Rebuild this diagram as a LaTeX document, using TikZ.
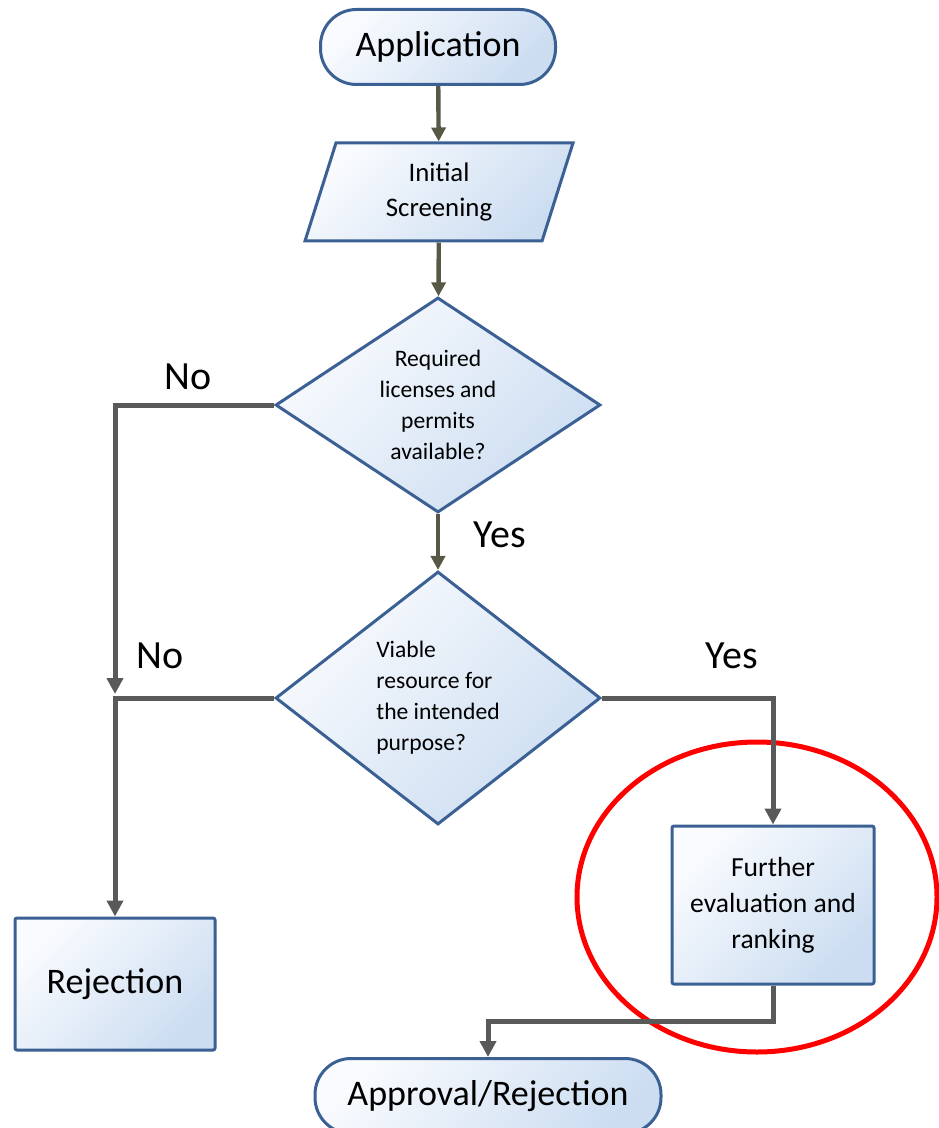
\documentclass[tikz,border=0pt]{standalone}
\usepackage{fontspec}
\setmainfont{Carlito}
\usepackage{xcolor}
\usepackage{tikz}
\usetikzlibrary{shapes.geometric, shapes.misc, arrows.meta, positioning}

\definecolor{boxline}{RGB}{58,96,148}
\definecolor{boxlight}{RGB}{249,251,254}
\definecolor{boxdark}{RGB}{204,221,241}
\definecolor{flowolive}{RGB}{89,88,70}
\definecolor{flowgrey}{RGB}{89,89,89}

\begin{document}
\begin{tikzpicture}[
    x=0.5pt, y=-0.5pt,
    shapebase/.style={draw=boxline, line width=1.5pt, left color=boxlight, right color=boxdark, shading angle=45, align=center, inner sep=0pt},
    terminal/.style={shapebase, rectangle, rounded corners=18pt, minimum height=37.5pt, font=\fontsize{18}{22}\selectfont},
    inputbox/.style={shapebase, trapezium, trapezium left angle=62, trapezium right angle=118, trapezium stretches body, minimum width=134pt, minimum height=49pt, font=\fontsize{13.4}{17.5}\selectfont},
    decision/.style={shapebase, diamond, minimum width=162.5pt, font=\fontsize{11.8}{15.5}\selectfont},
    process/.style={shapebase, rectangle, rounded corners=1pt},
    olivearrow/.style={draw=flowolive, line width=2.2pt, -{Triangle[width=7pt,length=7pt]}},
    greyarrow/.style={draw=flowgrey, line width=2.5pt, -{Triangle[width=8pt,length=8pt]}},
    answer/.style={font=\fontsize{20}{24}\selectfont}
]
\useasboundingbox (0,0) rectangle (938,1128);

% Main column
\node[terminal, minimum width=117.5pt] (app) at (438, 47) {Application};
\node[inputbox] (init) at (439, 192) {Initial\\Screening};
\node[decision, aspect=1.51, minimum height=107.5pt] (lic) at (438, 405) {Required\\licenses and\\permits\\available?};
\node[decision, aspect=1.28, minimum height=126.5pt, align=left] (via) at (438, 698) {Viable\\resource for\\the intended\\purpose?\hspace*{4pt}};

% Outcomes
\node[process, minimum width=100pt, minimum height=66pt, font=\fontsize{18}{22}\selectfont] (rej) at (115, 984) {Rejection};
\node[process, minimum width=101pt, minimum height=79pt, font=\fontsize{13.8}{18}\selectfont] (fur) at (773, 905) {Further\\evaluation and\\ranking};
\node[terminal, minimum width=173pt] (appr) at (488, 1096) {Approval/Rejection};

% Highlight
\node[ellipse, draw=red, line width=2.5pt, minimum width=180pt, minimum height=155pt] (mark) at (757, 897) {};

% Connectors
\coordinate (nojoin) at (115, 694);
\coordinate (furbend) at (773, 1021);
\draw[olivearrow] (app) -- (init);
\draw[olivearrow] (init) -- (lic);
\draw[olivearrow] (lic) -- (via);
\draw[greyarrow] (lic.west) -| (nojoin);
\draw[greyarrow] (via.west) -| (rej.north);
\draw[greyarrow] (via.east) -| (fur.north);
\draw[greyarrow] (fur.south) -- (furbend) -| (appr.north);

% Answers
\node[answer] (nolic) at (188, 377) {No};
\node[answer] (yeslic) at (500, 535) {Yes};
\node[answer] (novia) at (160, 656) {No};
\node[answer] (yesvia) at (732, 656) {Yes};

\end{tikzpicture}
\end{document}
